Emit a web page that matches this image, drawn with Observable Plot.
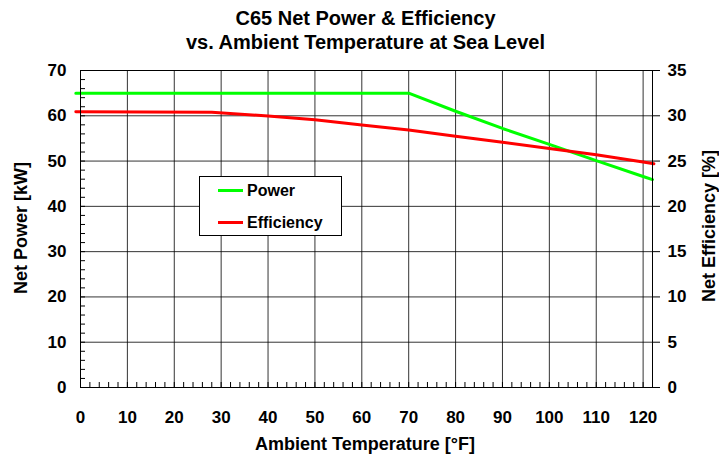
<!DOCTYPE html>
<html>
<head>
<meta charset="utf-8">
<script src="https://cdn.jsdelivr.net/npm/d3@7"></script>
<script src="https://cdn.jsdelivr.net/npm/@observablehq/plot@0.6"></script>
<style>
  html, body { margin: 0; padding: 0; background: #fff; }
  #wrap { position: relative; width: 719px; height: 454px; overflow: hidden; font-family: "Liberation Sans", Arial, sans-serif; color: #000; }
  #title { position: absolute; left: 6px; top: 6px; width: 719px; text-align: center; font-weight: bold; font-size: 20px; line-height: 24px; }
  #chart { position: absolute; left: 0; top: 60px; }
  .atitle { position: absolute; font-weight: bold; font-size: 18px; white-space: nowrap; line-height: 20px; }
  #xtitle { left: 365px; top: 444px; transform: translate(-50%, -50%); }
  #ytitleL { left: 21px; top: 228px; transform: translate(-50%, -50%) rotate(-90deg); }
  #ytitleR { left: 709px; top: 226px; transform: translate(-50%, -50%) rotate(-90deg); }
  #legend { position: absolute; left: 199px; top: 176px; width: 141px; height: 58px; border: 1px solid #000; background: #fff; font-weight: bold; font-size: 16px; }
  .item { position: absolute; left: 18px; height: 20px; line-height: 20px; white-space: nowrap; }
  .sw { display: inline-block; width: 25px; height: 3px; vertical-align: middle; margin-right: 4px; position: relative; top: -1px; }
</style>
</head>
<body>
<div id="wrap">
  <div id="title">C65 Net Power &amp; Efficiency<br>vs. Ambient Temperature at Sea Level</div>
  <div id="chart"></div>
  <div id="xtitle" class="atitle">Ambient Temperature [°F]</div>
  <div id="ytitleL" class="atitle">Net Power [kW]</div>
  <div id="ytitleR" class="atitle">Net Efficiency [%]</div>
  <div id="legend"></div>
</div>
<script>
// Data
const powerTemps = [-1, 70, 80, 90, 100, 110, 120, 122];
const powerKW    = [65, 65, 61.0, 57.2, 53.7, 50.1, 46.6, 45.9];
const effTemps   = [-1, 28, 40, 50, 60, 70, 80, 90, 100, 110, 120, 122.3];
const effPct     = [30.45, 30.4, 29.98, 29.55, 28.98, 28.43, 27.73, 27.07, 26.4, 25.7, 24.9, 24.7];

const xMajorTicks = [0, 10, 20, 30, 40, 50, 60, 70, 80, 90, 100, 110, 120];
const xMinorTicks = d3.range(0, 123, 2);
const yMajorTicks = [0, 10, 20, 30, 40, 50, 60, 70];   // kW (left); right axis shows kW/2 as %
const yMinorTicks = d3.range(0, 71, 2);
const seriesNames = ["Power", "Efficiency"];
const seriesColors = ["#00ff00", "#ff0000"];

const powerData = powerTemps.map((t, i) => ({t, v: powerKW[i]}));
const effData = effTemps.map((t, i) => ({t, v: effPct[i]}));

const chart = Plot.plot({
  width: 719,
  height: 394,
  marginTop: 10,
  marginBottom: 67,
  marginLeft: 80,
  marginRight: 67,
  style: {fontFamily: "'Liberation Sans', Arial, sans-serif", fontWeight: "bold", fontSize: "17px", color: "#000", background: "#fff"},
  x: {domain: [0, 122]},
  y: {domain: [0, 70]},
  marks: [
    Plot.gridX(xMajorTicks.filter(d => d > 0), {stroke: "#000", strokeOpacity: 0.8}),
    Plot.gridY(yMajorTicks.filter(d => d > 0), {stroke: "#000", strokeOpacity: 0.8}),
    Plot.line(powerData, {x: "t", y: "v", stroke: seriesColors[0], strokeWidth: 3, clip: false}),
    Plot.line(effData, {x: "t", y: d => d.v * 2, stroke: seriesColors[1], strokeWidth: 3, clip: false}),
    Plot.frame({stroke: "#000", strokeWidth: 1}),
    Plot.axisX(xMinorTicks, {tickSize: 5, dy: -5, tickFormat: () => "", label: null}),
    Plot.axisX(xMajorTicks, {tickSize: 0, tickPadding: 23, label: null}),
    Plot.axisY(yMinorTicks, {anchor: "left", tickSize: 5, dx: 5, tickFormat: () => "", label: null}),
    Plot.axisY(yMajorTicks, {anchor: "left", tickSize: 0, tickPadding: 14, label: null}),
    Plot.axisY(yMajorTicks, {anchor: "right", tickSize: 7, tickPadding: 8, tickFormat: d => String(d / 2), label: null})
  ]
});
document.getElementById("chart").appendChild(chart);

const legend = document.getElementById("legend");
seriesNames.forEach((name, i) => {
  const item = document.createElement("div");
  item.className = "item";
  item.style.top = (4 + i * 32) + "px";
  const sw = document.createElement("span");
  sw.className = "sw";
  sw.style.background = seriesColors[i];
  item.appendChild(sw);
  item.appendChild(document.createTextNode(name));
  legend.appendChild(item);
});
</script>
</body>
</html>
